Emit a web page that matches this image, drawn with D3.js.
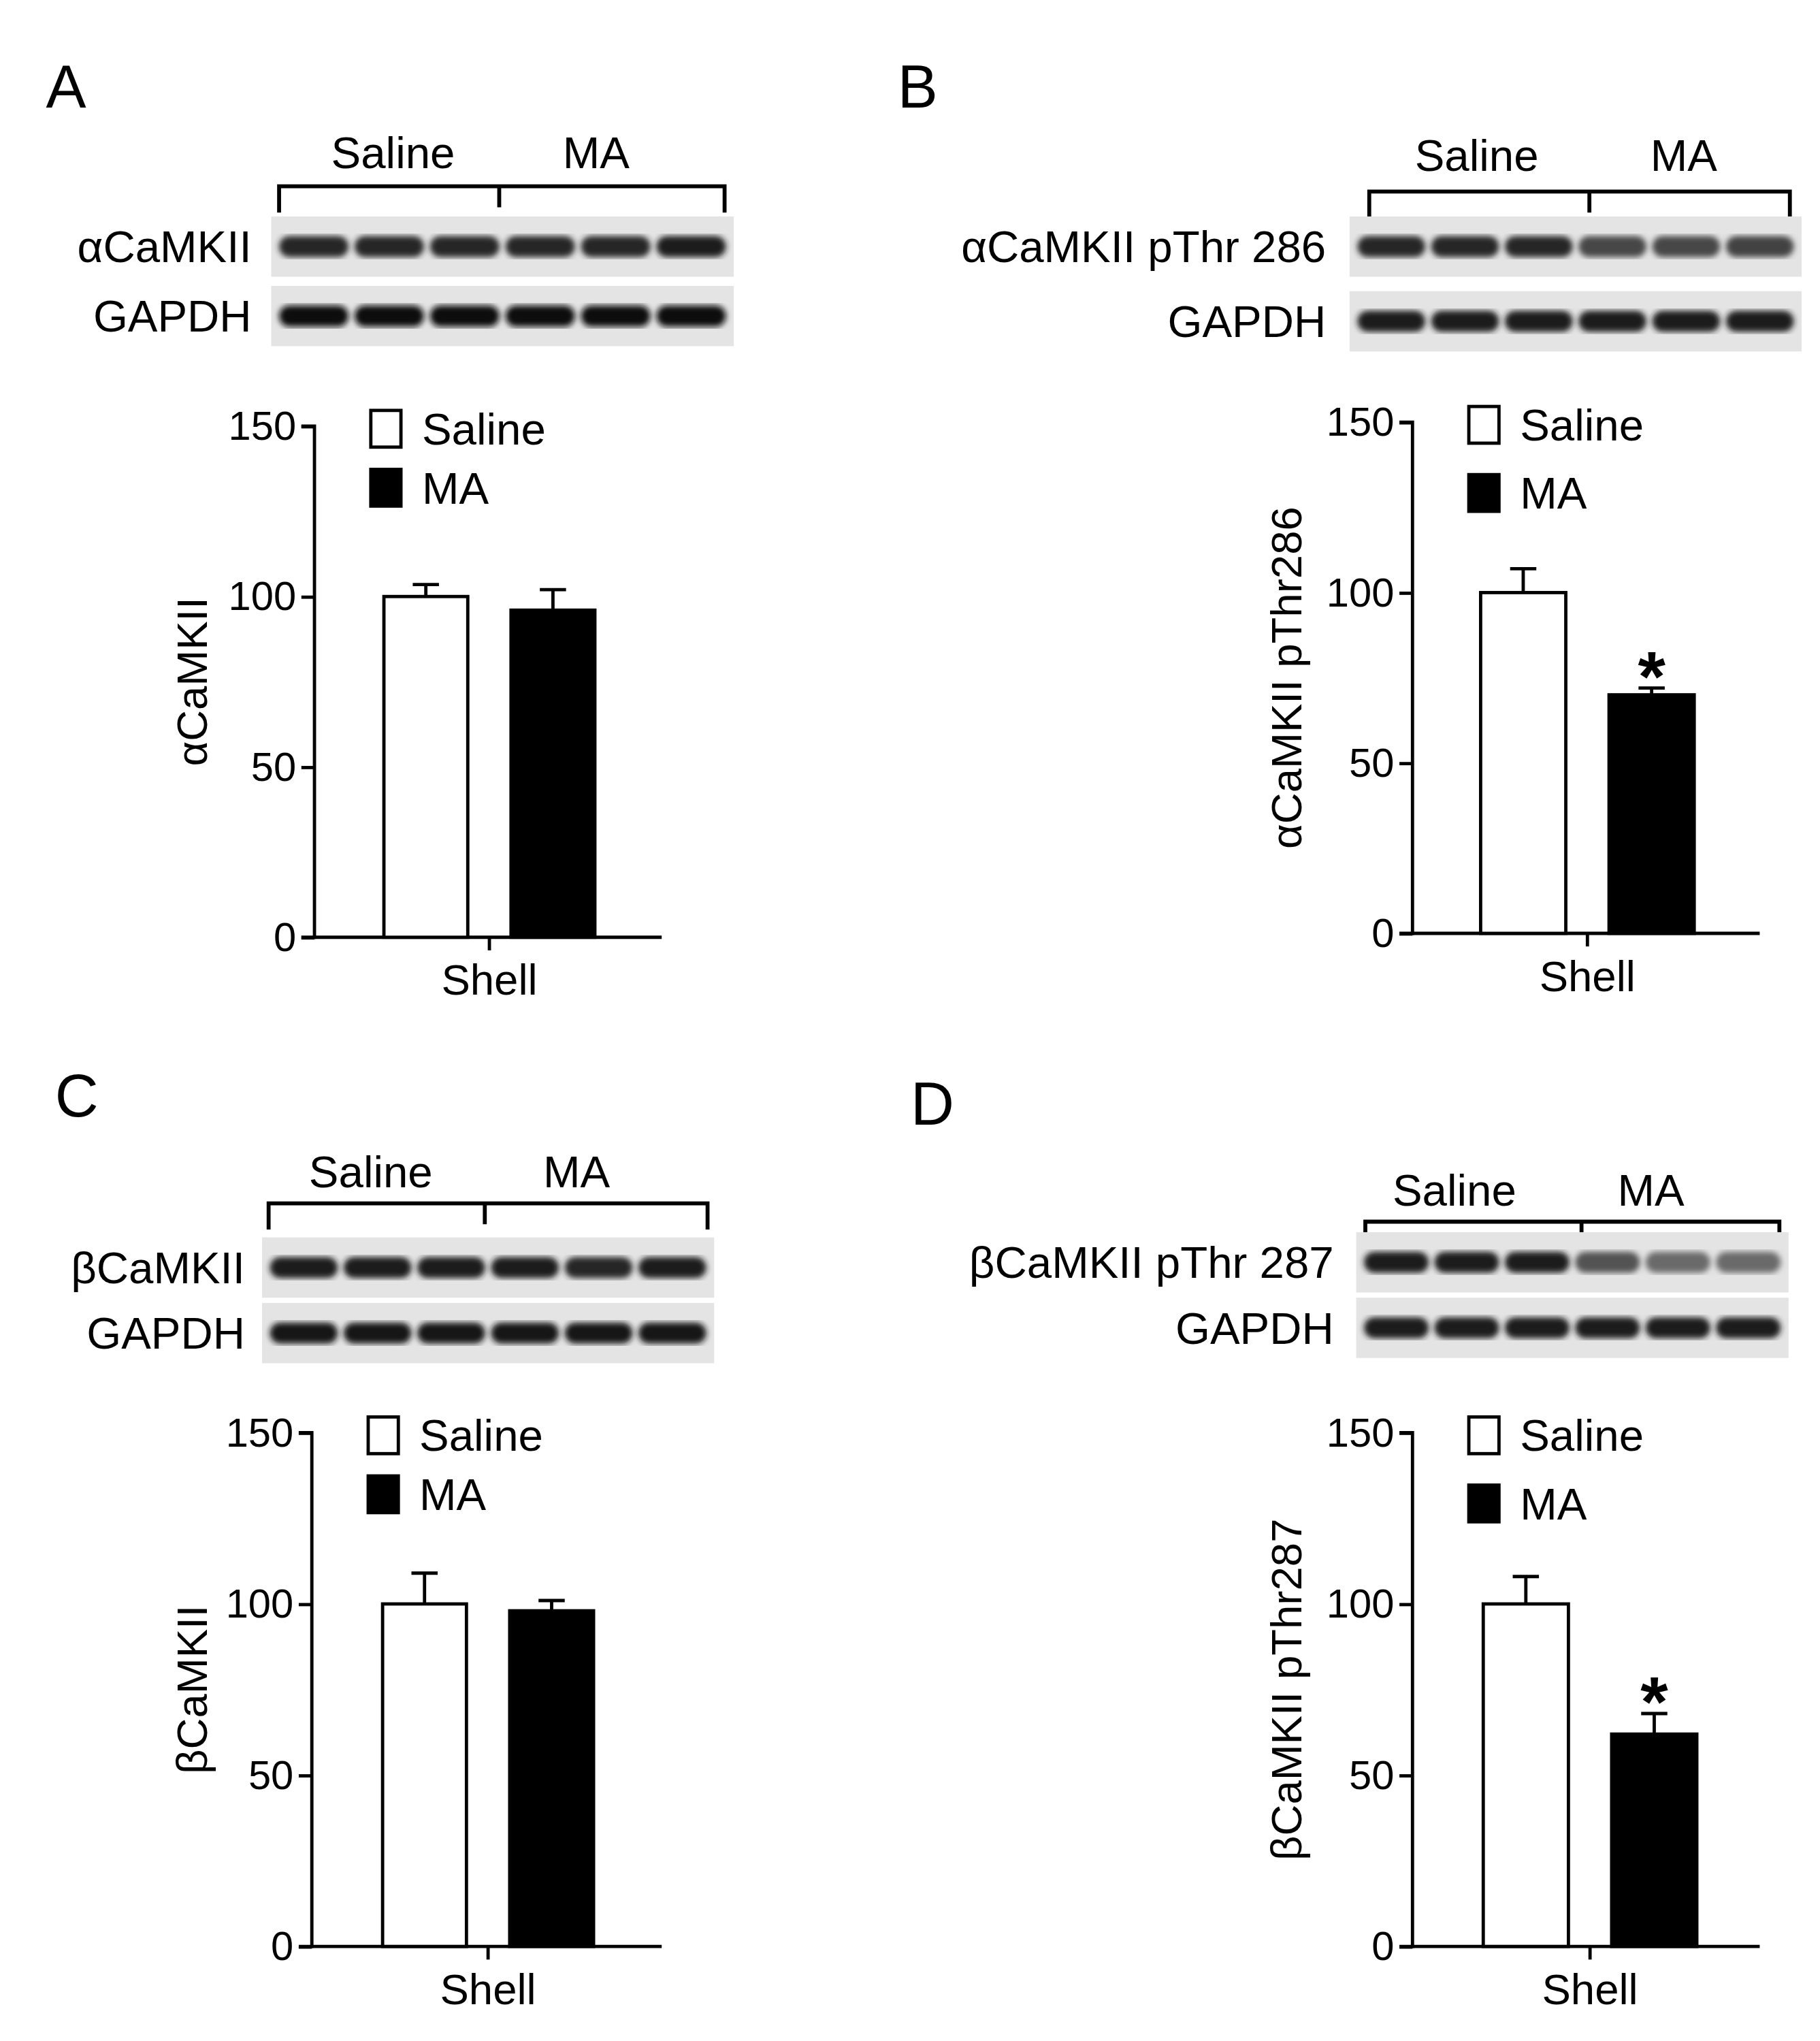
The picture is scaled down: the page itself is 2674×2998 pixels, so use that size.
<!DOCTYPE html>
<html><head><meta charset="utf-8">
<script src="https://cdn.jsdelivr.net/npm/d3@7"></script>
<style>body{margin:0;background:#fff}text{font-family:"Liberation Sans",Arial,sans-serif}</style>
</head><body>
<svg id="fig" width="2674" height="2998" viewBox="0 0 1389 1557"></svg>
<script>
var groups = ["Saline", "MA"];
var yTicks = [0, 50, 100, 150];
var panelNames = ["A", "B", "C", "D"];
var yLabels = ["\u03b1CaMKII", "\u03b1CaMKII pThr286", "\u03b2CaMKII", "\u03b2CaMKII pThr287"];
var blotLabels = ["\u03b1CaMKII", "\u03b1CaMKII pThr 286", "\u03b2CaMKII", "\u03b2CaMKII pThr 287"];
var means = [[100, 96], [100, 70], [100, 98], [100, 62]];
var sems = [[3.5, 6], [7, 2], [9, 3], [8, 6]];
var stars = [false, true, false, true];
// band darkness (0-1) for 6 lanes: target row, GAPDH row
var bandTarget = [[.85,.85,.85,.85,.85,.9],[.85,.85,.85,.7,.7,.72],[.9,.9,.9,.9,.85,.9],[.9,.9,.9,.65,.55,.55]];
var bandGapdh = [[.95,.95,.95,.95,.95,.95],[.9,.9,.9,.88,.88,.9],[.92,.92,.92,.92,.92,.92],[.9,.9,.9,.88,.88,.9]];

// layout per panel
var L = [
  {lx:35, ly:82, head:[300,455], hy:128, br:[213,381,553], by:142, bx:[207,560], r1:165, r2:218, rh:46, labX:192,
   ax:240, y0:715, y1:325, xe:505, bars:[293,390], bw:64, ylabX:158},
  {lx:685, ly:82, head:[1127,1285], hy:130, br:[1045,1213,1366], by:146, bx:[1030,1375], r1:165, r2:222, rh:46, labX:1012,
   ax:1078, y0:712, y1:322, xe:1343, bars:[1130,1228], bw:65, ylabX:993},
  {lx:42, ly:852, head:[283,440], hy:906, br:[205,370,540], by:918, bx:[200,545], r1:944, r2:994, rh:46, labX:187,
   ax:238, y0:1485, y1:1093, xe:505, bars:[292,389], bw:64, ylabX:158},
  {lx:695, ly:858, head:[1110,1260], hy:920, br:[1042,1207,1358], by:932, bx:[1035,1365], r1:940, r2:990, rh:46, labX:1018,
   ax:1078, y0:1485, y1:1093, xe:1343, bars:[1132,1230], bw:65, ylabX:993}
];

var svg = d3.select("#fig");
var defs = svg.append("defs");
defs.append("filter").attr("id", "blur").append("feGaussianBlur").attr("stdDeviation", 2.2);

function drawBlotRow(g, x0, x1, y, h, dark) {
  g.append("rect").attr("x", x0).attr("y", y).attr("width", x1 - x0).attr("height", h).attr("fill", "#e4e4e4");
  var lane = d3.scaleBand().domain(d3.range(6)).range([x0 + 6, x1 - 6]).paddingInner(0.08);
  g.selectAll(null).data(dark).enter().append("rect")
    .attr("x", function(d, i) { return lane(i); })
    .attr("y", y + h / 2 - 8).attr("width", lane.bandwidth()).attr("height", 16)
    .attr("rx", 8)
    .attr("fill", function(d) { return d3.gray(100 - d * 100); })
    .attr("filter", "url(#blur)");
}

L.forEach(function(p, k) {
  var g = svg.append("g");
  g.append("text").attr("x", p.lx).attr("y", p.ly).attr("font-size", 46).text(panelNames[k]);
  // header
  groups.forEach(function(t, i) {
    g.append("text").attr("x", p.head[i]).attr("y", p.hy).attr("text-anchor", "middle").attr("font-size", 34).text(t);
  });
  g.append("path").attr("fill", "none").attr("stroke", "#000").attr("stroke-width", 3)
    .attr("d", "M" + p.br[0] + "," + (p.by + 20) + "V" + p.by + "H" + p.br[2] + "V" + (p.by + 20) +
      "M" + p.br[1] + "," + p.by + "V" + (p.by + 16));
  drawBlotRow(g, p.bx[0], p.bx[1], p.r1, p.rh, bandTarget[k]);
  drawBlotRow(g, p.bx[0], p.bx[1], p.r2, p.rh, bandGapdh[k]);
  g.append("text").attr("x", p.labX).attr("y", p.r1 + p.rh / 2 + 12).attr("text-anchor", "end").attr("font-size", 34).text(blotLabels[k]);
  g.append("text").attr("x", p.labX).attr("y", p.r2 + p.rh / 2 + 12).attr("text-anchor", "end").attr("font-size", 34).text("GAPDH");

  // chart
  var y = d3.scaleLinear().domain([0, 150]).range([p.y0, p.y1]);
  var ya = g.append("g").attr("transform", "translate(" + p.ax + ",0)")
    .call(d3.axisLeft(y).tickValues(yTicks).tickSize(10).tickPadding(4));
  ya.select(".domain").attr("stroke-width", 2.5).attr("d", "M-10," + p.y1 + "H0V" + p.y0 + "H-10");
  ya.selectAll("line").attr("stroke-width", 2.5);
  ya.selectAll("text").attr("font-size", 31).attr("font-family", "Liberation Sans, Arial");
  g.append("path").attr("stroke", "#000").attr("stroke-width", 2.5)
    .attr("d", "M" + p.ax + "," + p.y0 + "H" + p.xe);
  var cx = (p.bars[0] + p.bw + p.bars[1]) / 2;
  g.append("path").attr("stroke", "#000").attr("stroke-width", 2.5).attr("d", "M" + cx + "," + p.y0 + "v10");
  g.append("text").attr("x", cx).attr("y", p.y0 + 44).attr("text-anchor", "middle").attr("font-size", 33).text("Shell");
  g.append("text").attr("transform", "translate(" + p.ylabX + "," + ((p.y0 + p.y1) / 2) + ")rotate(-90)")
    .attr("text-anchor", "middle").attr("font-size", 33).text(yLabels[k]);

  var bars = g.selectAll(null).data(means[k]).enter();
  bars.append("path").attr("stroke", "#000").attr("stroke-width", 2.5).attr("fill", "none")
    .attr("d", function(d, i) {
      var mx = p.bars[i] + p.bw / 2, top = y(d + sems[k][i]);
      return "M" + mx + "," + y(d) + "V" + top + "M" + (mx - 10) + "," + top + "H" + (mx + 10);
    });
  bars.append("rect").attr("x", function(d, i) { return p.bars[i]; })
    .attr("y", function(d) { return y(d); }).attr("width", p.bw)
    .attr("height", function(d) { return p.y0 - y(d); })
    .attr("fill", function(d, i) { return i ? "#000" : "#fff"; })
    .attr("stroke", "#000").attr("stroke-width", 2.5);
  if (stars[k]) {
    g.append("text").attr("x", p.bars[1] + p.bw / 2).attr("y", y(means[k][1] + sems[k][1]) + 10)
      .attr("text-anchor", "middle").attr("font-size", 54).attr("font-weight", "bold").text("*");
  }
  // legend
  var lx = p.ax + 43;
  groups.forEach(function(t, i) {
    var ly = y(150) + i * (k % 2 ? 52 : 45) - 12;
    g.append("rect").attr("x", lx).attr("y", ly).attr("width", 23).attr("height", 28)
      .attr("fill", i ? "#000" : "#fff").attr("stroke", "#000").attr("stroke-width", 2.5);
    g.append("text").attr("x", lx + 39).attr("y", ly + 26).attr("font-size", 34).text(t);
  });
});
</script>
</body></html>
